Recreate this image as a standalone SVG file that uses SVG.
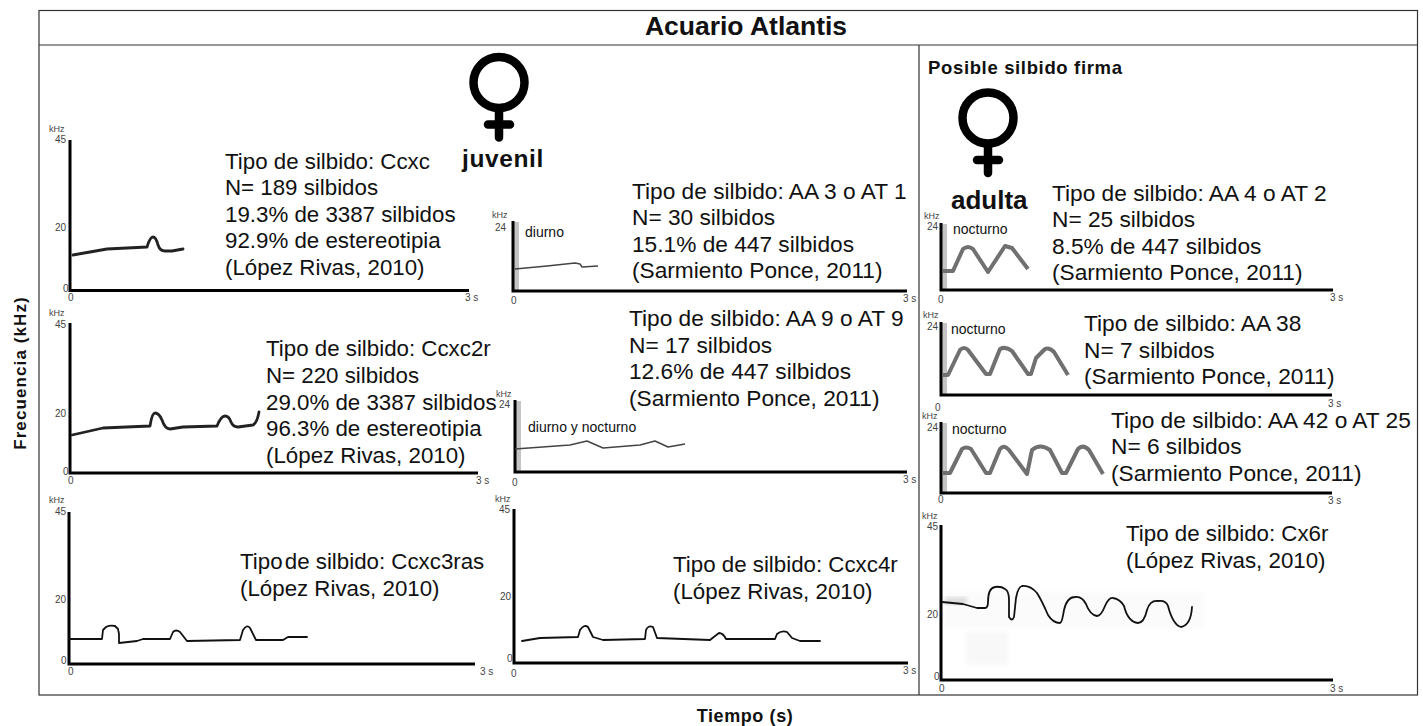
<svg xmlns="http://www.w3.org/2000/svg" width="1423" height="726" viewBox="0 0 1423 726">
<style>
text{font-family:"Liberation Sans",Arial,sans-serif;fill:#111}
.d{font-size:22.300px}
.a{font-size:22.700px}
.t{font-size:10px;fill:#444}
.k{font-size:9px;fill:#444}
.n{font-size:14px}
.b{font-weight:bold}
.ax{fill:none;stroke:#000;stroke-width:3}
.band{fill:#c4c4c4}
.c{fill:none;stroke:#111;stroke-width:1.8;stroke-linejoin:round;stroke-linecap:round}
.c2{fill:none;stroke:#222;stroke-width:2.800;stroke-linejoin:round;stroke-linecap:round}
.c1{fill:none;stroke:#444;stroke-width:1.4;stroke-linejoin:round}
.w{fill:none;stroke:#707070;stroke-width:4;stroke-linejoin:round}
.f{fill:none;stroke:#000;stroke-linecap:round}
.fr{fill:none;stroke:#333;stroke-width:1.2}
</style>
<defs>
<g id="venus"><circle cx="0" cy="0" r="25.500" fill="none" stroke="#000" stroke-width="8.500"/><path class="f" stroke-width="8.500" d="M0 28V55M-11 42H11"/></g>
<filter id="bl"><feGaussianBlur stdDeviation="2"/></filter>
</defs>
<rect width="1423" height="726" fill="#fff"/>
<g id="frame">
<rect class="fr" x="39" y="10.500" width="1378.500" height="684.500"/>
<path class="fr" d="M39 45H1417.500M919 45V695"/>
<text x="746" y="35" text-anchor="middle" font-size="26.500" class="b">Acuario Atlantis</text>
</g>
<text x="26" y="373" text-anchor="middle" font-size="17" letter-spacing="1.100" class="b" transform="rotate(-90 26 373)">Frecuencia (kHz)</text>
<text x="745" y="722" text-anchor="middle" font-size="18" letter-spacing="0.600" class="b">Tiempo (s)</text>
<g id="juvenil"><use href="#venus" x="499" y="82.500"/><text x="462" y="167" font-size="24.500" letter-spacing="0.600" class="b">juvenil</text></g>
<g id="adulta"><text x="928" y="74" font-size="18.500" letter-spacing="0.650" class="b">Posible silbido firma</text><use href="#venus" x="988" y="118"/><text x="951" y="209" font-size="26" class="b">adulta</text></g>

<g id="ccxc">
<path class="ax" d="M70 140V290.500H469"/>
<text class="k" x="49" y="132">kHz</text><text class="t" x="55" y="143">45</text><text class="t" x="55" y="231">20</text><text class="t" x="63" y="292">0</text><text class="t" x="68" y="301">0</text><text class="t" x="465" y="301">3 s</text>
<path class="c2" d="M73 255L90 252L107 249L147 247Q150 237 153 237Q156 237 158 245Q160 251 165 251L172 251L183 249"/>
<text class="d" x="225" y="169">Tipo de silbido: Ccxc</text><text class="d" x="225" y="195">N= 189 silbidos</text><text class="d" x="225" y="222">19.3% de 3387 silbidos</text><text class="d" x="225" y="248">92.9% de estereotipia</text><text class="d" x="225" y="275">(López Rivas, 2010)</text>
</g>
<g id="ccxc2r">
<path class="ax" d="M70 323V473H478"/>
<text class="k" x="49" y="316">kHz</text><text class="t" x="55" y="328">45</text><text class="t" x="55" y="417">20</text><text class="t" x="63" y="475">0</text><text class="t" x="68" y="484">0</text><text class="t" x="476" y="484">3 s</text>
<path class="c2" d="M72 435L103 428L150 426Q152 413 155 413Q159 413 162 420Q165 429 170 429L183 427L217 426Q221 416 225 416Q229 416 231 422Q233 427 238 427L253 425Q257 423 259 412"/>
<text class="d" x="266" y="356">Tipo de silbido: Ccxc2r</text><text class="d" x="266" y="383">N= 220 silbidos</text><text class="d" x="266" y="410">29.0% de 3387 silbidos</text><text class="d" x="266" y="436">96.3% de estereotipia</text><text class="d" x="266" y="463">(López Rivas, 2010)</text>
</g>
<g id="ccxc3ras">
<path class="ax" d="M69 512V664H475"/>
<text class="k" x="49" y="503">kHz</text><text class="t" x="55" y="515">45</text><text class="t" x="55" y="603">20</text><text class="t" x="61" y="664">0</text><text class="t" x="68" y="675">0</text><text class="t" x="480" y="675">3 s</text>
<path class="c" d="M69 639H102L103 630L106 627Q110 625 115 626L118 629L119 634V643L137 641L143 639H170L173 632Q176 629 180 632L187 641L240 640L243 630Q247 624 250 628L256 640H283L288 637H307"/>
<text class="d" x="240" y="569">Tipo <tspan dx="-4">de silbido: Ccxc3ras</tspan></text><text class="d" x="240" y="596">(López Rivas, 2010)</text>
</g>
<g id="aa3">
<rect class="band" x="514" y="222" width="5" height="68"/>
<path class="ax" d="M513 221V291H907"/>
<text class="k" x="492" y="218">kHz</text><text class="t" x="495" y="231">24</text><text class="t" x="511" y="304">0</text><text class="t" x="903" y="302">3 s</text><text class="n" x="525" y="237" font-size="13">diurno</text>
<path class="c1" d="M515 269L547 266L575 263L580 264L582 267L598 266"/>
<text class="a" x="632" y="199">Tipo de silbido: AA 3 o AT 1</text><text class="a" x="632" y="225">N= 30 silbidos</text><text class="a" x="632" y="252">15.1% de 447 silbidos</text><text class="a" x="632" y="278">(Sarmiento Ponce, 2011)</text>
</g>
<g id="aa9">
<rect class="band" x="516" y="401" width="5" height="70"/>
<path class="ax" d="M515 400V472H907"/>
<text class="k" x="496" y="397">kHz</text><text class="t" x="499" y="408">24</text><text class="t" x="512" y="486">0</text><text class="t" x="903" y="483">3 s</text><text class="n" x="528" y="432">diurno y nocturno</text>
<path class="c1" d="M515 449L570 445L587 441L603 448L640 445L655 441L668 447L685 444"/>
<text class="a" x="629" y="326">Tipo de silbido: AA 9 o AT 9</text><text class="a" x="629" y="353">N= 17 silbidos</text><text class="a" x="629" y="379">12.6% de 447 silbidos</text><text class="a" x="629" y="406">(Sarmiento Ponce, 2011)</text>
</g>
<g id="ccxc4r">
<path class="ax" d="M514 509V663H908"/>
<text class="k" x="495" y="502">kHz</text><text class="t" x="499" y="513">45</text><text class="t" x="500" y="600">20</text><text class="t" x="507" y="662">0</text><text class="t" x="511" y="677">0</text><text class="t" x="903" y="674">3 s</text>
<path class="c" d="M522 641L540 638L578 637L580 630Q584 624 588 627L593 637L603 640L645 639L646 630Q648 625 653 627L657 638L710 640Q715 636 719 633Q723 633 726 639H775L777 634Q782 630 787 632L792 638L800 641H820"/>
<text class="d" x="673" y="572">Tipo de silbido: Ccxc4r</text><text class="d" x="673" y="599">(López Rivas, 2010)</text>
</g>
<g id="aa4">
<rect class="band" x="942" y="224" width="5" height="65"/>
<path class="ax" d="M941 223V290H1333"/>
<text class="k" x="924" y="219">kHz</text><text class="t" x="927" y="230">24</text><text class="t" x="938" y="303">0</text><text class="t" x="1330" y="301">3 s</text><text class="n" x="953" y="234" font-size="13.500">nocturno</text>
<path class="w" d="M943 271H953L963 249Q968 245 973 249L988 272L1005 246L1012 248L1028 269"/>
<text class="a" x="1052" y="201">Tipo de silbido: AA 4 o AT 2</text><text class="a" x="1052" y="227">N= 25 silbidos</text><text class="a" x="1052" y="254">8.5% de 447 silbidos</text><text class="a" x="1052" y="280">(Sarmiento Ponce, 2011)</text>
</g>
<g id="aa38">
<rect class="band" x="942" y="323" width="5" height="71"/>
<path class="ax" d="M941 322V395H1332"/>
<text class="k" x="923" y="318">kHz</text><text class="t" x="927" y="330">24</text><text class="t" x="935" y="411">0</text><text class="t" x="1328" y="407">3 s</text><text class="n" x="951" y="334" font-size="13.500">nocturno</text>
<path class="w" d="M942 375H948L960 350Q964 346 968 350L986 374H990L1000 349Q1006 346 1012 351L1028 374H1031L1036 358L1045 349Q1049 347 1054 352L1068 375"/>
<text class="a" x="1084" y="331">Tipo de silbido: AA 38</text><text class="a" x="1084" y="358">N= 7 silbidos</text><text class="a" x="1084" y="384">(Sarmiento Ponce, 2011)</text>
</g>
<g id="aa42">
<rect class="band" x="942" y="423" width="5" height="69"/>
<path class="ax" d="M941 422V493H1332"/>
<text class="k" x="922" y="419">kHz</text><text class="t" x="927" y="431">24</text><text class="t" x="938" y="503">0</text><text class="t" x="1328" y="504">3 s</text><text class="n" x="952" y="434" font-size="13.500">nocturno</text>
<path class="w" d="M942 473H950L962 449Q966 446 971 449L986 473H990L1000 449Q1004 444 1009 450L1027 474L1032 450Q1040 443 1050 450L1062 473H1066L1078 449Q1083 444 1089 450L1103 474"/>
<text class="a" x="1111" y="428">Tipo de silbido: AA 42 o AT 25</text><text class="a" x="1111" y="454">N= 6 silbidos</text><text class="a" x="1111" y="481">(Sarmiento Ponce, 2011)</text>
</g>
<g id="cx6r">
<rect x="966" y="632" width="42" height="33" fill="#f8f8f8" filter="url(#bl)"/>
<rect x="944" y="592" width="260" height="36" fill="#fbfbfb" filter="url(#bl)"/>
<rect x="945" y="597" width="22" height="8" fill="#ddd" filter="url(#bl)"/>
<path class="ax" d="M941 525V680H1333"/>
<text class="k" x="922" y="519">kHz</text><text class="t" x="927" y="530">45</text><text class="t" x="927" y="618">20</text><text class="t" x="934" y="680">0</text><text class="t" x="939" y="692">0</text><text class="t" x="1330" y="692">3 s</text>
<path class="c" d="M942 602L963 604L977 608H985Q988 608 988 602Q988 588 995 587Q1001 586 1005 589Q1009 591 1009 600V617Q1012 622 1014 617L1016 598Q1018 587 1022 586Q1030 585 1037 593Q1042 601 1048 615Q1053 623 1060 623Q1062 623 1064 610Q1067 597 1075 597Q1082 596 1086 604Q1090 615 1097 616Q1101 616 1105 606Q1109 597 1113 598Q1120 599 1124 606Q1128 622 1138 623Q1144 623 1147 610Q1150 600 1158 601Q1166 600 1168 606Q1173 625 1181 627Q1191 625 1192 607"/>
<text class="d" x="1126" y="541">Tipo de silbido: Cx6r</text><text class="d" x="1126" y="568">(López Rivas, 2010)</text>
</g>
</svg>
